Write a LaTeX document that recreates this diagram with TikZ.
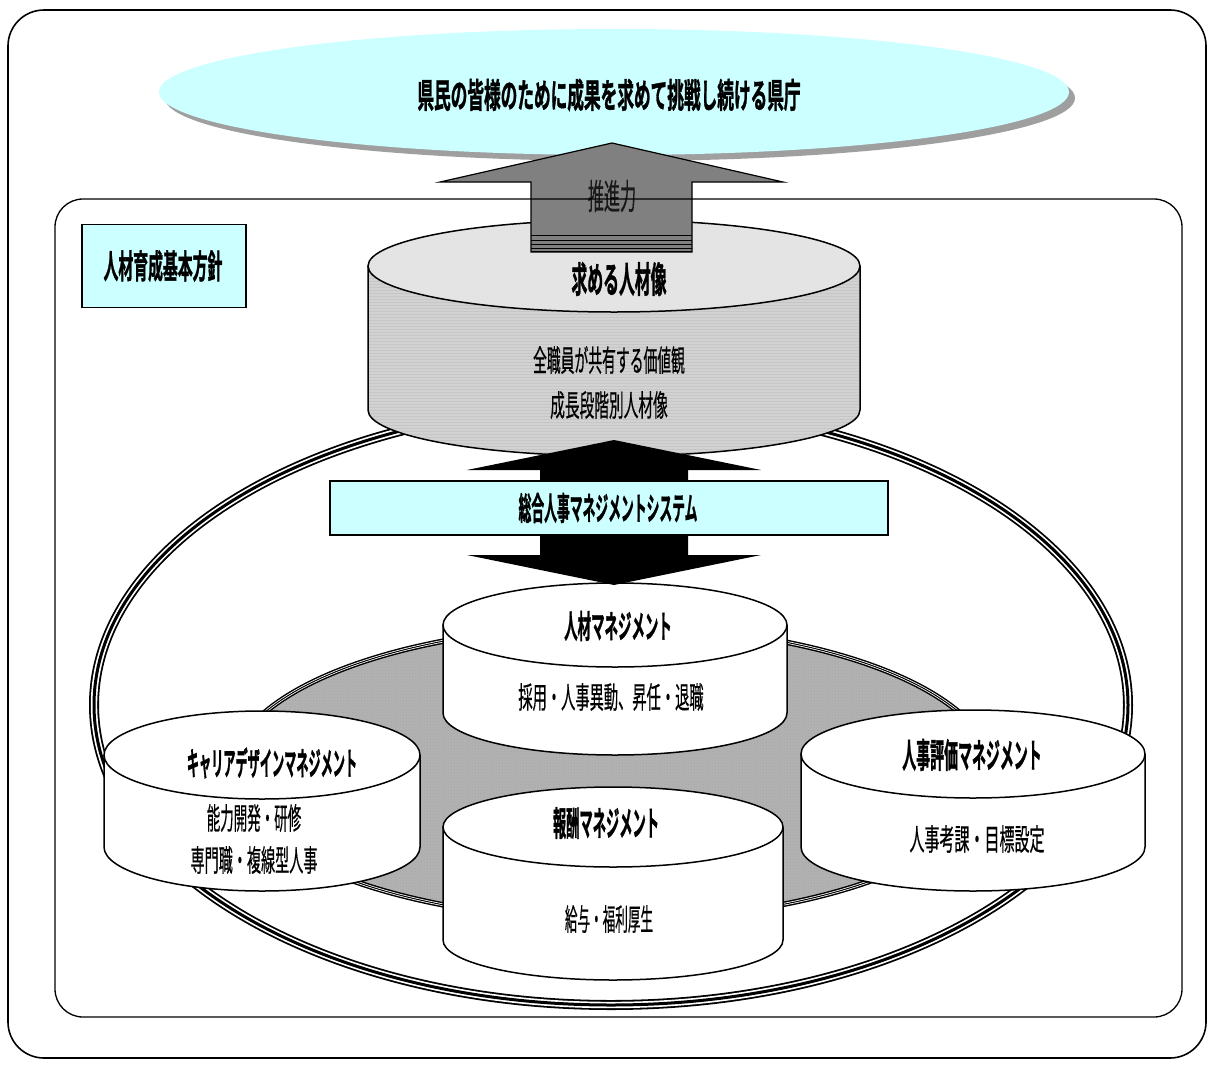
\documentclass[tikz,border=0pt]{standalone}
\usepackage{fontspec}
\usepackage{graphicx}
\usetikzlibrary{patterns}
\newfontfamily\jp{Noto Sans CJK JP}[FakeBold=0.6]
\newfontfamily\jpb{Noto Sans CJK JP Bold}[FakeBold=1.6]
\definecolor{lcyan}{HTML}{CCFFFF}
\definecolor{arrgray}{HTML}{808080}
\definecolor{cylside}{HTML}{D2D2D2}
\definecolor{cyltop}{HTML}{E4E4E4}
\definecolor{texgray}{HTML}{B2B2B2}
\newcommand\sq[2]{\scalebox{#1}[1]{#2}}
% cylinder: cx, ytop, ybottom, rx, ry, side fill opts, top fill opts
\newcommand\cyl[7]{%
  \path[#6] (#1-#4,#2) -- (#1-#4,#3) arc[start angle=180,end angle=0,x radius=#4,y radius=#5] -- (#1+#4,#2) -- cycle;
  \draw[cylline] (#1-#4,#2) -- (#1-#4,#3) arc[start angle=180,end angle=0,x radius=#4,y radius=#5] -- (#1+#4,#2);
  \path[#7] (#1,#2) ellipse[x radius=#4,y radius=#5];
  \draw[cylline] (#1,#2) ellipse[x radius=#4,y radius=#5];
}
\begin{document}
\begin{tikzpicture}[x=1pt,y=-1pt,
  cylline/.style={line width=1.5pt,black},
  tn/.style={font=\jp\fontsize{30}{32}\selectfont,inner sep=0pt,text=black},
  tbold/.style={font=\jpb\fontsize{34}{36}\selectfont,inner sep=0pt,text=black},
  cyanbox/.style={fill=lcyan,draw=black,line width=1.6pt}]
\useasboundingbox (0,0) rectangle (1213,1071);
\fill[white] (0,0) rectangle (1213,1071);
% outer frame
\draw[line width=1.6pt,rounded corners=36pt] (8,10) rectangle (1206,1058);
% title ellipse
\fill[gray!75] (620,98) ellipse[x radius=455,y radius=63];
\fill[lcyan] (614,92) ellipse[x radius=455,y radius=63];
\node[tbold] (title) at (609,95) {\sq{0.49}{県民の皆様のために成果を求めて挑戦し続ける県庁}};
% big triple ring
\draw[line width=10pt,black] (611,705) ellipse[x radius=517,y radius=300];
\draw[line width=6.4pt,white] (611,705) ellipse[x radius=517,y radius=300];
\draw[line width=3pt,black] (611,705) ellipse[x radius=517,y radius=300];
% upper cylinder
\cyl{614}{266}{410}{246}{46}{fill=cylside,postaction={pattern=horizontal lines,pattern color=gray!45}}{fill=cyltop,postaction={pattern=horizontal lines,pattern color=gray!22}}
% gray textured ellipse
\fill[texgray] (612,773) ellipse[x radius=380,y radius=146];
\fill[pattern=crosshatch dots,pattern color=gray!70] (612,773) ellipse[x radius=380,y radius=146];
\draw[line width=5.5pt,black] (612,773) ellipse[x radius=381,y radius=147];
\draw[line width=2.6pt,white] (612,773) ellipse[x radius=381,y radius=147];
\draw[line width=1pt,black] (612,773) ellipse[x radius=381,y radius=147];
% lower cylinders
\cyl{615}{625}{713}{172}{42}{fill=white}{fill=white}
\cyl{613}{827}{940}{170}{40}{fill=white}{fill=white}
\cyl{262}{755}{847}{158}{44}{fill=white}{fill=white}
\cyl{973}{754}{847}{172}{44}{fill=white}{fill=white}
% black double arrow
\fill[black] (614,440) -- (761,470) -- (688,470) -- (688,555) -- (761,555) -- (614,585)
  -- (467,555) -- (540,555) -- (540,470) -- (467,470) -- cycle;
\node[draw=black,fill=lcyan,line width=1.6pt,minimum width=558pt,minimum height=54pt,inner sep=0pt] (sys) at (609,508) {};
\node[tbold,font=\jpb\fontsize{32}{34}\selectfont] (systext) at (608,508) {\sq{0.40}{総合人事マネジメントシステム}};
% grey up arrow (推進力)
\filldraw[fill=arrgray,draw=black,line width=1.2pt] (612,143) -- (783,182) -- (692,182) -- (692,252)
  -- (531,252) -- (531,182) -- (440,182) -- cycle;
\foreach \yy/\ww in {235.5/1.6,240/0.8,244.5/1.6,248.5/0.8,251.5/1.6}
  \draw[line width=\ww pt] (531,\yy) -- (692,\yy);
\node[tn,font=\jp\fontsize{35}{37}\selectfont,text={rgb,255:red,25;green,25;blue,25}] (push) at (612,196) {\sq{0.46}{推進力}};
% inner frame
\draw[line width=1.3pt,rounded corners=28pt] (55,199) rectangle (1182,1017);
% policy box
\node[cyanbox,minimum width=164pt,minimum height=83pt,inner sep=0pt] (policybox) at (164,266) {};
\node[tbold,font=\jpb\fontsize{33}{35}\selectfont] (policy) at (163,266) {\sq{0.45}{人材育成基本方針}};
% texts in upper cylinder
\node[tbold,font=\jpb\fontsize{36}{38}\selectfont] (ideal) at (619,279) {\sq{0.44}{求める人材像}};
\node[tn] (ideal1) at (609,360) {\sq{0.46}{全職員が共有する価値観}};
\node[tn] (ideal2) at (609,405) {\sq{0.49}{成長段階別人材像}};
% texts in lower cylinders
\node[tbold,font=\jpb\fontsize{32}{34}\selectfont] (hr) at (618,626) {\sq{0.42}{人材マネジメント}};
\node[tn] (hr1) at (611,697) {\sq{0.475}{採用・人事異動、昇任・退職}};
\node[tbold] (pay) at (606,823) {\sq{0.39}{報酬マネジメント}};
\node[tn] (pay1) at (609,919) {\sq{0.42}{給与・福利厚生}};
\node[tbold,font=\jpb\fontsize{32}{34}\selectfont] (career) at (272,763) {\sq{0.38}{キャリアデザインマネジメント}};
\node[tn] (career1) at (254,818) {\sq{0.45}{能力開発・研修}};
\node[tn] (career2) at (254,860) {\sq{0.47}{専門職・複線型人事}};
\node[tbold] (eval) at (972,755) {\sq{0.41}{人事評価マネジメント}};
\node[tn] (eval1) at (977,839) {\sq{0.50}{人事考課・目標設定}};
\end{tikzpicture}
\end{document}
